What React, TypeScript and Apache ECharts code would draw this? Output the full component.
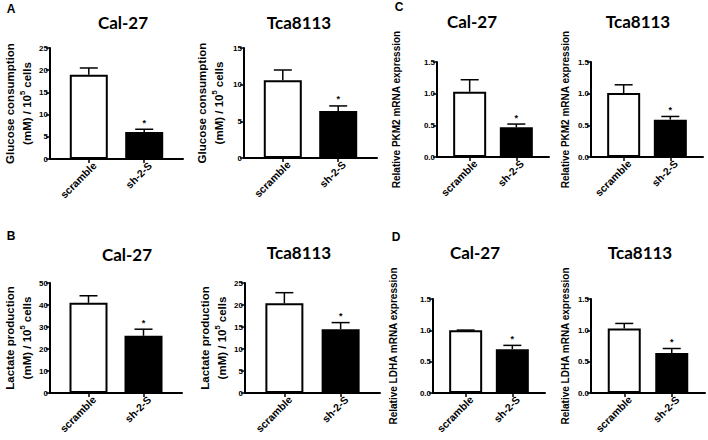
import React, { useEffect, useRef } from "react";
import * as echarts from "echarts";

// ---------- data ----------
const categories = ["scramble", "sh-2-S"];
const significant = [false, true];

const glucoseCal27Mean = [19.0, 6.1];
const glucoseCal27Sem = [1.5, 0.6];
const glucoseCal27Ticks = [0, 5, 10, 15, 20, 25];

const glucoseTca8113Mean = [10.6, 6.4];
const glucoseTca8113Sem = [1.4, 0.7];
const glucoseTca8113Ticks = [0, 5, 10, 15];

const lactateCal27Mean = [41.0, 26.0];
const lactateCal27Sem = [3.2, 3.0];
const lactateCal27Ticks = [0, 10, 20, 30, 40, 50];

const lactateTca8113Mean = [20.4, 14.5];
const lactateTca8113Sem = [2.4, 1.5];
const lactateTca8113Ticks = [0, 5, 10, 15, 20, 25];

const pkm2Cal27Mean = [1.03, 0.47];
const pkm2Cal27Sem = [0.19, 0.05];
const pkm2Tca8113Mean = [1.01, 0.59];
const pkm2Tca8113Sem = [0.13, 0.05];

const ldhaCal27Mean = [1.0, 0.7];
const ldhaCal27Sem = [0.004, 0.06];
const ldhaTca8113Mean = [1.03, 0.64];
const ldhaTca8113Sem = [0.08, 0.07];

const relTicks = [0, 0.5, 1.0, 1.5];

const glucoseName = "Glucose consumption\n(mM) / 10{sup|5} cells";
const lactateName = "Lactate production\n(mM) / 10{sup|5} cells";
const pkm2Name = "Relative PKM2 mRNA expression";
const ldhaName = "Relative LDHA mRNA expression";

// ---------- layout ----------
const panels = [
  { title: "Cal-27", mean: glucoseCal27Mean, sem: glucoseCal27Sem, ticks: glucoseCal27Ticks, name: glucoseName, dec: 0,
    left: 48, top: 48, width: 135, height: 111, barW: 38, nameGap: 15, nameSize: 11.5, tx: 123, ty: 22 },
  { title: "Tca8113", mean: glucoseTca8113Mean, sem: glucoseTca8113Sem, ticks: glucoseTca8113Ticks, name: glucoseName, dec: 0,
    left: 244, top: 48, width: 133, height: 110, barW: 38, nameGap: 17, nameSize: 11.5, tx: 299, ty: 22 },
  { title: "Cal-27", mean: lactateCal27Mean, sem: lactateCal27Sem, ticks: lactateCal27Ticks, name: lactateName, dec: 0,
    left: 47, top: 283, width: 135, height: 110, barW: 38, nameGap: 15, nameSize: 11.5, tx: 127, ty: 254 },
  { title: "Tca8113", mean: lactateTca8113Mean, sem: lactateTca8113Sem, ticks: lactateTca8113Ticks, name: lactateName, dec: 0,
    left: 245, top: 283, width: 135, height: 110, barW: 38, nameGap: 15, nameSize: 11.5, tx: 299, ty: 252 },
  { title: "Cal-27", mean: pkm2Cal27Mean, sem: pkm2Cal27Sem, ticks: relTicks, name: pkm2Name, dec: 1,
    left: 437, top: 62, width: 112, height: 95, barW: 33, nameGap: 32, nameSize: 10, tx: 472, ty: 21 },
  { title: "Tca8113", mean: pkm2Tca8113Mean, sem: pkm2Tca8113Sem, ticks: relTicks, name: pkm2Name, dec: 1,
    left: 591, top: 62, width: 112, height: 95, barW: 33, nameGap: 16, nameSize: 10, tx: 638, ty: 21 },
  { title: "Cal-27", mean: ldhaCal27Mean, sem: ldhaCal27Sem, ticks: relTicks, name: ldhaName, dec: 1,
    left: 433, top: 299, width: 112, height: 94, barW: 33, nameGap: 31, nameSize: 10, tx: 475, ty: 252 },
  { title: "Tca8113", mean: ldhaTca8113Mean, sem: ldhaTca8113Sem, ticks: relTicks, name: ldhaName, dec: 1,
    left: 591, top: 299, width: 114, height: 94, barW: 33, nameGap: 14, nameSize: 10, tx: 640, ty: 252 },
];

const letters = [
  { t: "A", x: 11, y: 9 },
  { t: "B", x: 11, y: 236 },
  { t: "C", x: 399, y: 7 },
  { t: "D", x: 396, y: 237 },
];

const FONT = "Liberation Sans";
const TITLE_FONT = "Lato";

function buildOption() {
  const grid: any[] = [];
  const xAxis: any[] = [];
  const yAxis: any[] = [];
  const series: any[] = [];
  const graphic: any[] = [];

  panels.forEach((p, i) => {
    grid.push({ left: p.left, top: p.top, width: p.width, height: p.height, containLabel: false });
    xAxis.push({
      gridIndex: i,
      type: "value",
      min: 0.3,
      max: 2.7,
      splitLine: { show: false },
      axisLine: { show: true, onZero: false, lineStyle: { color: "#000", width: 2 } },
      axisTick: { show: true, customValues: [1, 2], length: 4, lineStyle: { color: "#000", width: 1.5 } },
      axisLabel: { show: false },
    });
    const t = p.ticks;
    yAxis.push({
      gridIndex: i,
      type: "value",
      min: t[0],
      max: t[t.length - 1],
      interval: t[1] - t[0],
      splitLine: { show: false },
      axisLine: { show: true, lineStyle: { color: "#000", width: 2 } },
      axisTick: { show: true, length: 4, lineStyle: { color: "#000", width: 1.5 } },
      axisLabel: {
        margin: 2,
        color: "#000",
        fontFamily: FONT,
        fontWeight: "bold",
        fontSize: 8,
        formatter: (v: number) => v.toFixed(p.dec),
      },
      name: p.name,
      nameLocation: "middle",
      nameGap: p.nameGap,
      nameTextStyle: {
        color: "#000",
        fontFamily: FONT,
        fontWeight: "bold",
        fontSize: p.nameSize,
        lineHeight: 17,
        rich: {
          sup: { fontFamily: FONT, fontWeight: "bold", fontSize: 7.5, color: "#000", verticalAlign: "top", lineHeight: 9 },
        },
      },
    });
    series.push({
      type: "bar",
      xAxisIndex: i,
      yAxisIndex: i,
      barWidth: p.barW,
      data: categories.map((c, j) => ({
        name: c,
        value: [j + 1, p.mean[j]],
        itemStyle:
          j === 0
            ? { color: "#fff", borderColor: "#000", borderWidth: 2 }
            : { color: "#000", borderColor: "#000", borderWidth: 2 },
      })),
    });
    series.push({
      type: "custom",
      xAxisIndex: i,
      yAxisIndex: i,
      clip: false,
      encode: { x: 0, y: 1 },
      data: categories.map((c, j) => [j + 1, p.mean[j], p.sem[j], significant[j] ? 1 : 0, j]),
      renderItem: (params: any, api: any) => {
        const x = api.value(0);
        const m = api.value(1);
        const e = api.value(2);
        const s = api.value(3);
        const ci = api.value(4);
        const p0 = api.coord([x, m]);
        const p1 = api.coord([x, m + e]);
        const pb = api.coord([x, 0]);
        const children: any[] = [
          { type: "line", shape: { x1: p0[0], y1: p0[1], x2: p1[0], y2: p1[1] }, style: { stroke: "#000", lineWidth: 1.5 } },
          { type: "line", shape: { x1: p1[0] - 9, y1: p1[1], x2: p1[0] + 9, y2: p1[1] }, style: { stroke: "#000", lineWidth: 1.5 } },
          {
            type: "text",
            x: pb[0] + 6,
            y: pb[1] + 5,
            rotation: Math.PI / 4,
            style: {
              text: categories[ci],
              fill: "#000",
              font: `bold 10.5px "${FONT}"`,
              align: "right",
              verticalAlign: "middle",
            },
          },
        ];
        if (s) {
          children.push({
            type: "text",
            x: p1[0],
            y: p1[1] - 2,
            style: { text: "*", fill: "#000", font: `bold 9px "${FONT}"`, align: "center", verticalAlign: "bottom" },
          });
        }
        return { type: "group", children };
      },
    });
    graphic.push({
      type: "text",
      x: p.tx,
      y: p.ty,
      style: { text: p.title, fill: "#000", font: `bold 17px "${TITLE_FONT}"`, align: "center", verticalAlign: "middle" },
    });
  });

  letters.forEach((l) => {
    graphic.push({
      type: "text",
      x: l.x,
      y: l.y,
      style: { text: l.t, fill: "#000", font: `bold 12px "${FONT}"`, align: "center", verticalAlign: "middle" },
    });
  });

  return {
    animation: false,
    backgroundColor: "#fff",
    grid,
    xAxis,
    yAxis,
    series,
    graphic,
  };
}

export default function App() {
  const ref = useRef<HTMLDivElement>(null);
  useEffect(() => {
    if (!ref.current) return;
    const chart = echarts.init(ref.current, undefined, { renderer: "svg" });
    chart.setOption(buildOption() as any);
    return () => chart.dispose();
  }, []);
  return (
    <div
      ref={ref}
      style={{ position: "fixed", left: 0, top: 0, width: 708, height: 440, background: "#fff" }}
    />
  );
}
